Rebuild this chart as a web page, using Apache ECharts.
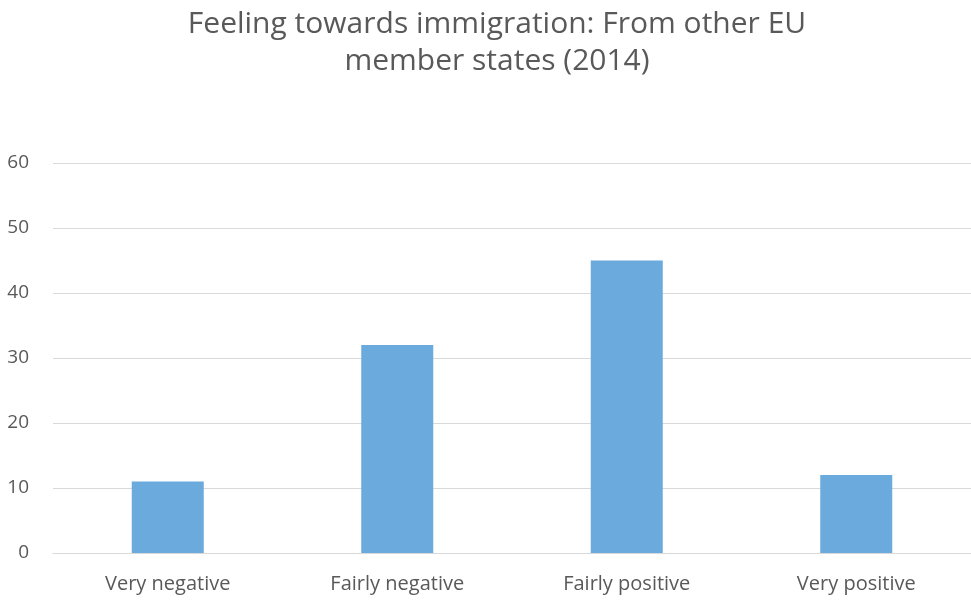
<!DOCTYPE html>
<html>
<head>
<meta charset="utf-8">
<script src="https://cdn.jsdelivr.net/npm/echarts@6/dist/echarts.min.js"></script>
<style>
  html, body { margin: 0; padding: 0; background: #fff; }
  #chart { width: 971px; height: 600px; }
</style>
</head>
<body>
<div id="chart"></div>
<script>
// Survey categories and share of respondents (%)
const categories = ['Very negative', 'Fairly negative', 'Fairly positive', 'Very positive'];
const shares = [11, 32, 45, 12];
const yTicks = { min: 0, max: 60, interval: 10 };

const textColor = '#595959';
const fontFamily = '"Open Sans", "Liberation Sans", sans-serif';

const chart = echarts.init(document.getElementById('chart'));
chart.setOption({
  animation: false,
  backgroundColor: '#ffffff',
  title: {
    text: 'Feeling towards immigration: From other EU\nmember states (2014)',
    left: 492,
    textAlign: 'center',
    top: 1,
    textStyle: {
      color: textColor,
      fontFamily: fontFamily,
      fontWeight: 'normal',
      fontSize: 30,
      lineHeight: 37
    }
  },
  grid: { left: 53, right: 0, top: 163, bottom: 47, containLabel: false },
  xAxis: {
    type: 'category',
    data: categories,
    axisLine: { show: true, lineStyle: { color: '#d9d9d9', width: 1 } },
    axisTick: { show: false },
    axisLabel: { color: textColor, fontFamily: fontFamily, fontSize: 20, margin: 21 }
  },
  yAxis: {
    type: 'value',
    min: yTicks.min,
    max: yTicks.max,
    interval: yTicks.interval,
    axisLine: { show: false },
    axisTick: { show: false },
    splitLine: { lineStyle: { color: '#d9d9d9', width: 1 } },
    axisLabel: { color: textColor, fontFamily: fontFamily, fontSize: 19, margin: 24 }
  },
  series: [{
    type: 'bar',
    data: shares,
    barWidth: 72,
    itemStyle: { color: '#6aaadc' }
  }]
});
</script>
</body>
</html>
